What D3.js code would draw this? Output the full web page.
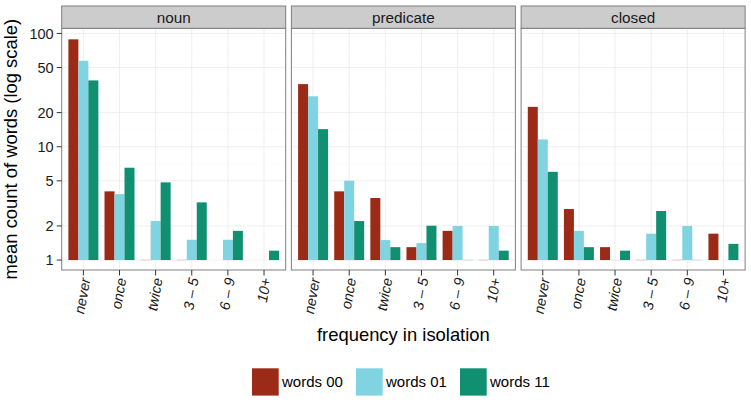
<!DOCTYPE html>
<html><head><meta charset="utf-8">
<script src="https://cdn.jsdelivr.net/npm/d3@7"></script>
<style>
html,body{margin:0;padding:0;background:#fff;}
svg{display:block;font-family:"Liberation Sans",Arial,Helvetica,sans-serif;}
</style></head>
<body>
<svg id="chart" width="751" height="402"></svg>
<script>
const categories = ["never", "once", "twice", "3 \u2013 5", "6 \u2013 9", "10+"];
const panels = ["noun", "predicate", "closed"];
const seriesNames = ["words 00", "words 01", "words 11"];
const seriesColors = ["#9B2B17", "#80D3E1", "#118F71"];
const yTicks = [1, 2, 5, 10, 20, 50, 100];

// values per panel (null = absent)
const noun00 = [88.7, 4.04, 1, 1, null, null];
const noun01 = [57.4, 3.82, 2.21, 1.51, 1.51, null];
const noun11 = [38.5, 6.53, 4.85, 3.23, 1.81, 1.21];
const predicate00 = [35.7, 4.04, 3.53, 1.30, 1.81, 1];
const predicate01 = [27.9, 5.01, 1.50, 1.41, 2.0, 2.0];
const predicate11 = [14.3, 2.21, 1.30, 2.01, 1, 1.21];
const closed00 = [22.5, 2.82, 1.30, 1, 1, 1.71];
const closed01 = [11.6, 1.81, 1, 1.71, 2.0, null];
const closed11 = [6.01, 1.30, 1.21, 2.71, 1, 1.39];

const panelData = {
  noun: [noun00, noun01, noun11],
  predicate: [predicate00, predicate01, predicate11],
  closed: [closed00, closed01, closed11]
};

const svg = d3.select("#chart");
const W = 751, H = 402;
const panelLeft = 61.7, panelW = 224, panelGap = 5.7;
const stripTop = 6, stripH = 22.3;
const panelTop = stripTop + stripH, panelBottom = 270;

const y = d3.scaleLog().domain([0.817, 111]).range([panelBottom, panelTop]);

// discrete x with 0.6 expansion
const unit = panelW / (categories.length - 1 + 1.2);
const barTotal = 0.83;

const outer = d3.scaleBand().domain(panels)
  .range([panelLeft, panelLeft + 3 * panelW + 2 * panelGap])
  .paddingInner(panelGap / (panelW + panelGap)).paddingOuter(0);

panels.forEach((p, pi) => {
  const x0 = outer(p);
  const x = d3.scalePoint().domain(categories).range([x0 + 0.6 * unit, x0 + panelW - 0.6 * unit]);
  const inner = d3.scaleBand().domain(seriesNames).range([-barTotal * unit / 2, barTotal * unit / 2]).padding(0);
  const g = svg.append("g");

  // panel background
  g.append("rect").attr("x", x0).attr("y", panelTop).attr("width", panelW).attr("height", panelBottom - panelTop).attr("fill", "#fff");

  // minor grid
  for (let i = 0; i < yTicks.length - 1; i++) {
    const m = Math.sqrt(yTicks[i] * yTicks[i + 1]);
    g.append("line").attr("x1", x0).attr("x2", x0 + panelW).attr("y1", y(m)).attr("y2", y(m)).attr("stroke", "#FAFAFA").attr("stroke-width", 0.5);
  }
  // major grid
  yTicks.forEach(t => {
    g.append("line").attr("x1", x0).attr("x2", x0 + panelW).attr("y1", y(t)).attr("y2", y(t)).attr("stroke", "#EBEBEB").attr("stroke-width", 0.8);
  });
  categories.forEach(c => {
    g.append("line").attr("x1", x(c)).attr("x2", x(c)).attr("y1", panelTop).attr("y2", panelBottom).attr("stroke", "#EBEBEB").attr("stroke-width", 0.8);
  });

  // bars
  panelData[p].forEach((vals, si) => {
    vals.forEach((v, ci) => {
      if (v === null) return;
      const bx = x(categories[ci]) + inner(seriesNames[si]);
      const top = y(v), base = y(1);
      if (base - top < 0.5) {
        g.append("rect").attr("x", bx).attr("y", base - 0.5).attr("width", inner.bandwidth()).attr("height", 1)
          .attr("fill", seriesColors[si]).attr("opacity", 0.18);
      } else {
        g.append("rect").attr("x", bx).attr("y", top).attr("width", inner.bandwidth()).attr("height", base - top)
          .attr("fill", seriesColors[si]);
      }
    });
  });

  // panel border
  g.append("rect").attr("x", x0).attr("y", panelTop).attr("width", panelW).attr("height", panelBottom - panelTop)
    .attr("fill", "none").attr("stroke", "#7F7F7F").attr("stroke-width", 1);

  // strip
  g.append("rect").attr("x", x0).attr("y", stripTop).attr("width", panelW).attr("height", stripH)
    .attr("fill", "#CCCCCC").attr("stroke", "#7F7F7F").attr("stroke-width", 1);
  g.append("text").attr("x", x0 + panelW / 2).attr("y", stripTop + stripH / 2).attr("dy", "0.35em")
    .attr("text-anchor", "middle").attr("font-size", 15.3).attr("fill", "#1a1a1a").text(p);

  // x axis ticks & labels
  categories.forEach(c => {
    g.append("line").attr("x1", x(c)).attr("x2", x(c)).attr("y1", panelBottom).attr("y2", panelBottom + 5.5)
      .attr("stroke", "#333").attr("stroke-width", 1);
    g.append("text").attr("transform", `translate(${x(c) + 2},${panelBottom + 8}) rotate(-80)`)
      .attr("text-anchor", "end").attr("dy", "0.35em").attr("font-size", 14.5).attr("font-style", "italic")
      .attr("fill", "#1a1a1a").text(c);
  });

  // y axis on first panel
  if (pi === 0) {
    yTicks.forEach(t => {
      g.append("line").attr("x1", x0 - 5).attr("x2", x0).attr("y1", y(t)).attr("y2", y(t)).attr("stroke", "#333").attr("stroke-width", 1);
      g.append("text").attr("x", x0 - 8).attr("y", y(t)).attr("dy", "0.35em").attr("text-anchor", "end")
        .attr("font-size", 14.5).attr("fill", "#1a1a1a").text(t);
    });
  }
});

// axis titles
svg.append("text").attr("x", (panelLeft + outer.range()[1]) / 2).attr("y", 341).attr("text-anchor", "middle")
  .attr("font-size", 18.4).attr("fill", "#000").text("frequency in isolation");
svg.append("text").attr("transform", `translate(17,${(panelTop + panelBottom) / 2}) rotate(-90)`).attr("text-anchor", "middle")
  .attr("font-size", 18.4).attr("fill", "#000").text("mean count of words (log scale)");

// legend
const legendX = d3.scalePoint().domain(seriesNames).range([252, 460]);
const lg = svg.append("g");
seriesNames.forEach((s, i) => {
  lg.append("rect").attr("x", legendX(s)).attr("y", 368.3).attr("width", 26.7).attr("height", 27.3).attr("fill", seriesColors[i]);
  lg.append("text").attr("x", legendX(s) + 30).attr("y", 368.3 + 27.3 / 2).attr("dy", "0.35em")
    .attr("font-size", 15).attr("fill", "#000").text(s);
});
</script>
</body></html>
